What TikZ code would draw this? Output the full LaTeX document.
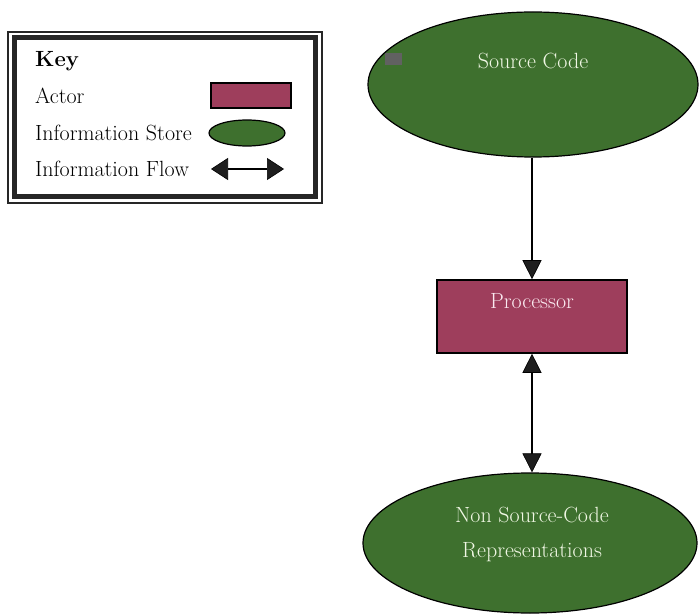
\documentclass[tikz,border=0pt]{standalone}
\usepackage{fontspec}
\usetikzlibrary{shapes.geometric,arrows.meta}
\definecolor{storegreen}{RGB}{62,112,46}
\definecolor{actorred}{RGB}{158,62,92}
\definecolor{greentext}{RGB}{240,247,228}
\definecolor{redtext}{RGB}{250,234,240}
\definecolor{tipgrey}{RGB}{30,30,30}
\tikzset{
  store/.style={ellipse, draw=black, line width=1.2pt, fill=storegreen, inner sep=0pt},
  actor/.style={rectangle, draw=black, line width=1.6pt, fill=actorred, inner sep=0pt},
  keytext/.style={anchor=base west, inner sep=0pt, font=\fontsize{22}{26}\selectfont},
  boxtext/.style={anchor=base, inner sep=0pt, font=\fontsize{22}{26}\selectfont},
  flow/.style={draw=black, line width=1.4pt,
    arrows={-Triangle[length=19pt, width=19pt, fill=tipgrey, line width=0.6pt]}},
  bothflow/.style={draw=black, line width=1.4pt,
    arrows={Triangle[length=19pt, width=19pt, fill=tipgrey, line width=0.6pt]-Triangle[length=19pt, width=19pt, fill=tipgrey, line width=0.6pt]}},
  keyflow/.style={draw=black, line width=1.8pt,
    arrows={Triangle[length=17pt, width=22pt, fill=tipgrey, line width=0.6pt]-Triangle[length=17pt, width=22pt, fill=tipgrey, line width=0.6pt]}}
}
\begin{document}
\begin{tikzpicture}[x=1pt, y=-1pt]
\useasboundingbox (0,0) rectangle (699,615);

% key frame: thin outer rule and heavy inner rule
\draw[line width=1.4pt, black!85] (8,32) rectangle (322,203);
\draw[line width=5.5pt, black!85] (14.5,37.5) rectangle (315.5,196.5);

% key entries
\node[keytext, font=\fontsize{22}{26}\selectfont\bfseries] (keyhead) at (35,67) {Key};
\node[keytext] (keyactor) at (35,104) {Actor};
\node[keytext] (keystore) at (35,141) {Information Store};
\node[keytext] (keyflowlbl) at (35,177) {Information Flow};
\node[actor, minimum width=80pt, minimum height=25pt] (keyrect) at (251,95.5) {};
\node[store, minimum width=76pt, minimum height=26pt] (keyellipse) at (247,133) {};
\coordinate (kfl) at (211,169);
\coordinate (kfr) at (284,169);
\draw[keyflow] (kfl) -- (kfr);

% main flow
\node[store, minimum width=330pt, minimum height=145pt] (src) at (533,84.5) {};
\fill[black!62] (385,53) rectangle (402,65);
\node[boxtext, text=greentext] (srclbl) at (533,69) {Source Code};

\node[actor, minimum width=190pt, minimum height=73pt] (proc) at (532,316.5) {};
\node[boxtext, text=redtext] (proclbl) at (532,308) {Processor};

\node[store, minimum width=334pt, minimum height=140pt] (nsc) at (530,543) {};
\node[boxtext, text=greentext] (nsclbl1) at (532,522) {Non Source-Code};
\node[boxtext, text=greentext] (nsclbl2) at (532,557) {Representations};

\draw[flow] (src.south -| proc.north) -- (proc.north);
\draw[bothflow] (proc.south) -- (proc.south |- nsc.north);
\end{tikzpicture}
\end{document}
